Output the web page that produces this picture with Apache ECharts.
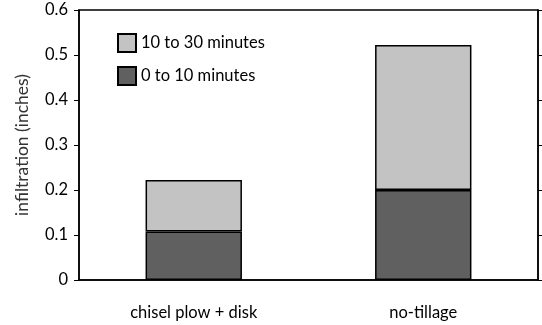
<!DOCTYPE html>
<html><head><meta charset="utf-8">
<script src="https://cdn.jsdelivr.net/npm/echarts@6/dist/echarts.min.js"></script>
<style>html,body{margin:0;padding:0;background:#fff}#c{width:542px;height:325px}</style>
</head><body><div id="c"></div>
<script>
const categories = ["chisel plow + disk", "no-tillage"];
const first10 = [0.108, 0.2];
const next20 = [0.114, 0.322];
const seriesNames = ["0 to 10 minutes", "10 to 30 minutes"];
const yTicks = [0, 0.1, 0.2, 0.3, 0.4, 0.5, 0.6];

const font = "Lato";
const chart = echarts.init(document.getElementById('c'), null, {renderer: 'canvas'});
chart.setOption({
  animation: false,
  grid: {left: 79, right: 4, top: 10, bottom: 45, show: true, borderColor: '#000', borderWidth: 1.5},
  legend: {
    orient: 'vertical', left: 112, top: 28, itemWidth: 18, itemHeight: 18, itemGap: 13,
    icon: 'rect',
    data: [seriesNames[1], seriesNames[0]],
    textStyle: {fontFamily: font, fontSize: 16.5, color: '#000'}
  },
  xAxis: {
    type: 'category', data: categories,
    axisLine: {lineStyle: {color: '#000', width: 1.5}}, axisTick: {show: false},
    axisLabel: {fontFamily: font, fontSize: 16.5, color: '#000', margin: 24}
  },
  yAxis: [{
    type: 'value', min: 0, max: 0.6, interval: 0.1,
    name: 'infiltration (inches)', nameLocation: 'middle', nameGap: 48, nameRotate: 90,
    nameTextStyle: {fontFamily: font, fontSize: 17.5, color: '#333'},
    axisLine: {show: true, lineStyle: {color: '#000', width: 1.5}},
    axisTick: {show: true, length: 5, lineStyle: {color: '#000'}},
    splitLine: {show: false},
    axisLabel: {fontFamily: font, fontSize: 16.5, color: '#000', margin: 11,
      formatter: v => { const t = yTicks.find(x => Math.abs(x - v) < 1e-9); return t === undefined ? '' : String(t); }}
  }, {
    type: 'value', min: 0, max: 0.6, interval: 0.1, position: 'right',
    axisLine: {show: true, lineStyle: {color: '#000', width: 1.5}},
    axisTick: {show: true, length: 5, lineStyle: {color: '#000'}},
    axisLabel: {show: false}, splitLine: {show: false}
  }],
  series: [{
    name: seriesNames[0], type: 'bar', stack: 'a', data: first10, barWidth: '42%',
    itemStyle: {color: '#606060', borderColor: '#000', borderWidth: 1.5}
  }, {
    name: seriesNames[1], type: 'bar', stack: 'a', data: next20, barWidth: '42%',
    itemStyle: {color: '#c3c3c3', borderColor: '#000', borderWidth: 1.5}
  }]
});
</script></body></html>
